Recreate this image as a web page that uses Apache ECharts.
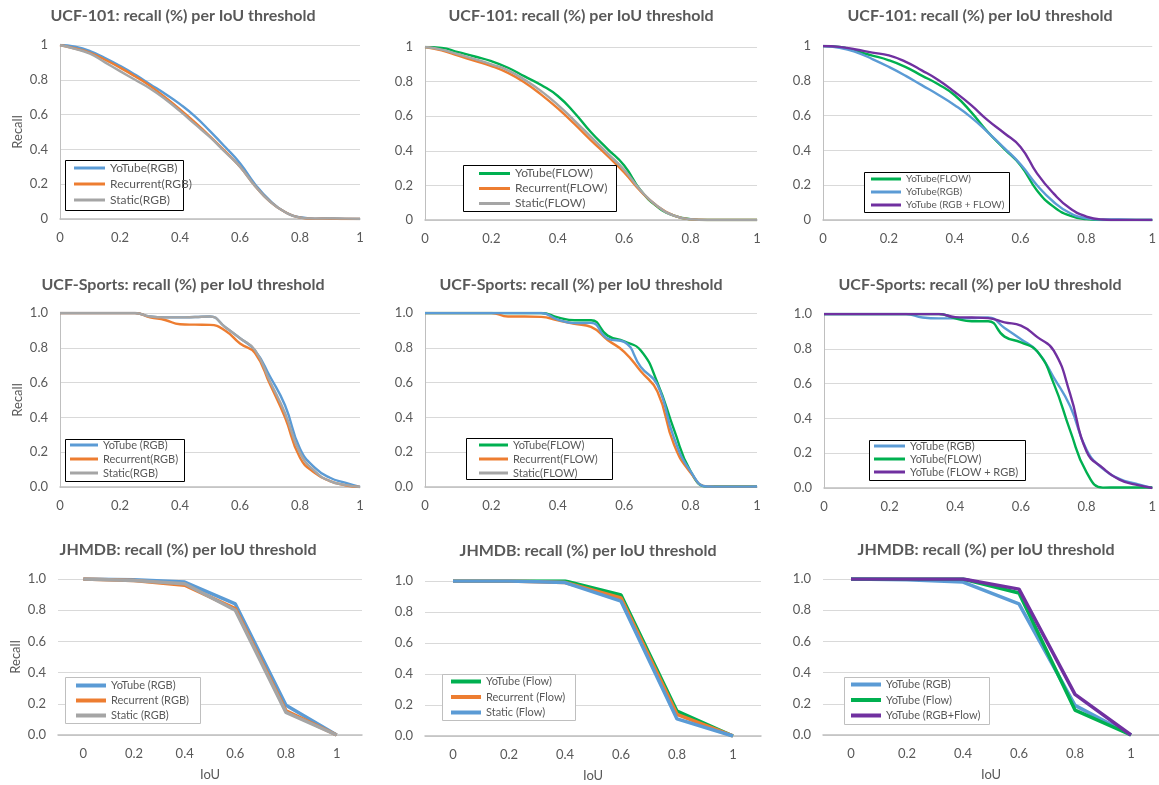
<!DOCTYPE html>
<html>
<head>
<meta charset="utf-8">
<title>Recall per IoU threshold</title>
<script src="https://cdn.jsdelivr.net/npm/echarts@6/dist/echarts.min.js"></script>
<style>
  body { margin: 0; background: #ffffff; }
  #chart { width: 1159px; height: 785px; }
</style>
</head>
<body>
<div id="chart"></div>
<script>
// IoU thresholds used for the smooth curves (UCF-101 / UCF-Sports)
var iouFine = [0, 0.05, 0.1, 0.15, 0.2, 0.25, 0.3, 0.35, 0.4, 0.45, 0.5, 0.55, 0.6, 0.65, 0.7, 0.75, 0.8, 0.85, 0.9, 0.95, 1];
// IoU categories for JHMDB
var iouCoarse = ['0', '0.2', '0.4', '0.6', '0.8', '1'];

// UCF-101
var ucf101YoTubeRgb    = [1, 0.99, 0.965, 0.925, 0.88, 0.83, 0.775, 0.72, 0.66, 0.59, 0.505, 0.415, 0.32, 0.2, 0.105, 0.04, 0.01, 0.002, 0.003, 0.001, 0];
var ucf101RecurrentRgb = [1, 0.98, 0.955, 0.915, 0.87, 0.82, 0.765, 0.7, 0.63, 0.555, 0.475, 0.39, 0.3, 0.19, 0.1, 0.04, 0.008, 0.001, 0.002, 0, 0];
var ucf101StaticRgb    = [1, 0.978, 0.95, 0.9, 0.85, 0.8, 0.75, 0.69, 0.62, 0.545, 0.47, 0.385, 0.3, 0.19, 0.1, 0.04, 0.008, 0.002, 0.004, 0.002, 0.001];
var ucf101YoTubeFlow    = [1, 0.995, 0.97, 0.945, 0.918, 0.88, 0.83, 0.78, 0.717, 0.62, 0.507, 0.41, 0.315, 0.17, 0.077, 0.025, 0.005, 0, 0, 0, 0];
var ucf101RecurrentFlow = [1, 0.98, 0.95, 0.92, 0.89, 0.85, 0.795, 0.725, 0.645, 0.555, 0.46, 0.37, 0.275, 0.165, 0.08, 0.025, 0.004, 0, 0, 0, 0];
var ucf101StaticFlow    = [1, 0.985, 0.958, 0.93, 0.9, 0.865, 0.81, 0.745, 0.665, 0.575, 0.48, 0.385, 0.29, 0.17, 0.08, 0.025, 0.004, 0, 0, 0, 0];
var ucf101YoTubeBoth    = [1, 0.995, 0.98, 0.962, 0.946, 0.91, 0.86, 0.805, 0.736, 0.66, 0.574, 0.5, 0.42, 0.268, 0.153, 0.067, 0.02, 0.003, 0, 0, 0];

// UCF-Sports
var sportsYoTubeRgb    = [1, 1, 1, 1, 1, 1, 0.98, 0.975, 0.975, 0.977, 0.98, 0.92, 0.855, 0.785, 0.635, 0.47, 0.22, 0.11, 0.053, 0.025, 0];
var sportsRecurrentRgb = [1, 1, 1, 1, 1, 1, 0.975, 0.96, 0.935, 0.933, 0.932, 0.9, 0.825, 0.77, 0.59, 0.4, 0.168, 0.08, 0.034, 0.01, 0];
var sportsStaticRgb    = [1, 1, 1, 1, 1, 1, 0.98, 0.975, 0.975, 0.977, 0.98, 0.92, 0.855, 0.787, 0.606, 0.425, 0.196, 0.09, 0.034, 0.012, 0];
var sportsYoTubeFlow    = [1, 1, 1, 1, 1, 1, 1, 1, 0.975, 0.958, 0.958, 0.87, 0.837, 0.785, 0.6, 0.33, 0.09, 0.002, 0.003, 0.003, 0.003];
var sportsRecurrentFlow = [1, 1, 1, 1, 1, 0.98, 0.98, 0.978, 0.958, 0.938, 0.92, 0.845, 0.777, 0.665, 0.549, 0.244, 0.082, 0.003, 0.002, 0.002, 0.002];
var sportsStaticFlow    = [1, 1, 1, 1, 1, 1, 1, 1, 0.962, 0.942, 0.943, 0.853, 0.834, 0.69, 0.587, 0.282, 0.09, 0.003, 0.002, 0.002, 0.003];
var sportsYoTubeBoth    = [1, 1, 1, 1, 1, 1, 1, 1, 0.982, 0.98, 0.976, 0.952, 0.933, 0.867, 0.79, 0.54, 0.21, 0.114, 0.048, 0.019, 0];

// JHMDB
var jhmdbYoTubeRgb     = [1.0, 0.995, 0.98, 0.84, 0.19, 0];
var jhmdbRecurrentRgb  = [1.0, 0.99, 0.96, 0.81, 0.155, 0];
var jhmdbStaticRgb     = [1.0, 0.99, 0.97, 0.80, 0.145, 0];
var jhmdbYoTubeFlow    = [1.0, 1.0, 1.0, 0.91, 0.16, 0];
var jhmdbRecurrentFlow = [1.0, 1.0, 0.99, 0.89, 0.14, 0];
var jhmdbStaticFlow    = [1.0, 1.0, 0.99, 0.87, 0.11, 0];
var jhmdbYoTubeBoth    = [1.0, 1.0, 1.0, 0.935, 0.26, 0];

var FONT = 'Lato, "Open Sans", sans-serif';
var TXT = '#595959';
var BLUE = '#5B9BD5', ORANGE = '#ED7D31', GRAY = '#A5A5A5', GREEN = '#00B050', PURPLE = '#7030A0';

var T101 = 'UCF-101: recall (%) per IoU threshold';
var TSPORT = 'UCF-Sports: recall (%) per IoU threshold';
var TJH = 'JHMDB: recall (%) per IoU threshold';

// one entry per small chart: plot rect, title centre, legend frame + layout
// leg = [left, top, fontSize, lineHeight, itemGap, iconWidth, iconHeight]
var panels = [
  { plot: [60, 45, 300, 174], title: [183, 16, T101], box: [65, 160, 118, 50],
    leg: [74, 161, 12, 14, 2, 31, 3], recall: true, dec: 0,
    lines: [['YoTube(RGB)', ucf101YoTubeRgb, BLUE], ['Recurrent(RGB)', ucf101RecurrentRgb, ORANGE], ['Static(RGB)', ucf101StaticRgb, GRAY]] },
  { plot: [425, 47, 332, 173], title: [581, 16, T101], box: [463, 165, 153, 46],
    leg: [479, 167, 12, 13, 2, 31, 3], dec: 0,
    lines: [['YoTube(FLOW)', ucf101YoTubeFlow, GREEN], ['Recurrent(FLOW)', ucf101RecurrentFlow, ORANGE], ['Static(FLOW)', ucf101StaticFlow, GRAY]] },
  { plot: [823, 46, 334, 174], title: [980, 16, T101], box: [864, 172, 145, 40],
    leg: [871, 173, 10, 12, 1, 30, 3], dec: 0,
    lines: [['YoTube(FLOW)', ucf101YoTubeFlow, GREEN], ['YoTube(RGB)', ucf101YoTubeRgb, BLUE], ['YoTube (RGB + FLOW)', ucf101YoTubeBoth, PURPLE]] },
  { plot: [60, 313, 300, 174], title: [183, 285, TSPORT], box: [65, 439, 119, 42],
    leg: [70, 439, 11, 12, 2, 28, 3], recall: true, dec: 1,
    lines: [['YoTube (RGB)', sportsYoTubeRgb, BLUE], ['Recurrent(RGB)', sportsRecurrentRgb, ORANGE], ['Static(RGB)', sportsStaticRgb, GRAY]] },
  { plot: [425, 313, 332, 174], title: [581, 285, TSPORT], box: [466, 438, 146, 41],
    leg: [479, 439, 11, 12, 2, 29, 3], dec: 1,
    lines: [['YoTube(FLOW)', sportsYoTubeFlow, GREEN], ['Recurrent(FLOW)', sportsRecurrentFlow, ORANGE], ['Static(FLOW)', sportsStaticFlow, BLUE]] },
  { plot: [824, 314, 333, 174], title: [980, 285, TSPORT], box: [869, 440, 156, 40],
    leg: [874, 440, 11, 12, 1, 31, 3], dec: 1,
    lines: [['YoTube (RGB)', sportsYoTubeRgb, BLUE], ['YoTube(FLOW)', sportsYoTubeFlow, GREEN], ['YoTube (FLOW + RGB)', sportsYoTubeBoth, PURPLE]] },
  { plot: [58, 579, 304, 156], title: [188, 550, TJH], box: [65, 677, 135, 46],
    leg: [76, 679, 11, 13, 2, 30, 4], recall: true, iou: true, cat: true, dec: 1,
    lines: [['YoTube (RGB)', jhmdbYoTubeRgb, BLUE], ['Recurrent (RGB)', jhmdbRecurrentRgb, ORANGE], ['Static (RGB)', jhmdbStaticRgb, GRAY]] },
  { plot: [425, 581, 336, 155], title: [588, 551, TJH], box: [442, 674, 133, 46],
    leg: [451, 675, 11, 13, 2.5, 30, 4], iou: true, cat: true, dec: 1,
    lines: [['YoTube (Flow)', jhmdbYoTubeFlow, GREEN], ['Recurrent (Flow)', jhmdbRecurrentFlow, ORANGE], ['Static (Flow)', jhmdbStaticFlow, BLUE]] },
  { plot: [823, 579, 336, 156], title: [986, 550, TJH], box: [844, 677, 145, 47],
    leg: [851, 678, 11, 13, 2.5, 30, 4], iou: true, cat: true, dec: 1,
    lines: [['YoTube (RGB)', jhmdbYoTubeRgb, BLUE], ['YoTube (Flow)', jhmdbYoTubeFlow, GREEN], ['YoTube (RGB+Flow)', jhmdbYoTubeBoth, PURPLE]] }
];

var grids = [], xAxes = [], yAxes = [], series = [], legends = [], graphics = [];

panels.forEach(function (p, i) {
  grids.push({ left: p.plot[0], top: p.plot[1], width: p.plot[2], height: p.plot[3] });

  var lbl = { color: TXT, fontSize: 13, fontFamily: FONT, margin: 12 };
  var axisLine = { show: true, lineStyle: { color: '#BFBFBF', width: 1.5 } };

  if (p.cat) {
    xAxes.push({
      gridIndex: i, type: 'category', data: iouCoarse, boundaryGap: true,
      axisLine: axisLine, axisTick: { show: false }, axisLabel: lbl,
      name: p.iou ? 'IoU' : '', nameLocation: 'middle', nameGap: 33,
      nameTextStyle: { color: TXT, fontSize: 13, fontFamily: FONT }
    });
  } else {
    xAxes.push({
      gridIndex: i, type: 'value', min: 0, max: 1, interval: 0.2,
      axisLine: axisLine, axisTick: { show: false }, axisLabel: lbl,
      splitLine: { show: false }
    });
  }

  yAxes.push({
    gridIndex: i, type: 'value', min: 0, max: 1, interval: 0.2,
    axisLine: { show: !p.cat, lineStyle: { color: '#BFBFBF', width: 1 } },
    axisTick: { show: false },
    axisLabel: {
      color: TXT, fontSize: 13, fontFamily: FONT, margin: 12,
      formatter: function (v) { return p.dec ? v.toFixed(1) : String(+v.toFixed(1)); }
    },
    splitLine: { lineStyle: { color: '#D9D9D9', width: 1 } },
    name: p.recall ? 'Recall' : '', nameLocation: 'middle', nameGap: 36,
    nameTextStyle: { color: TXT, fontSize: 13, fontFamily: FONT }
  });

  p.lines.forEach(function (l) {
    series.push({
      type: 'line', name: l[0], xAxisIndex: i, yAxisIndex: i,
      data: p.cat ? l[1] : iouFine.map(function (x, k) { return [x, l[1][k]]; }),
      smooth: p.cat ? false : 0.5,
      symbol: 'none', showSymbol: false,
      color: l[2], itemStyle: { color: l[2] },
      lineStyle: { color: l[2], width: p.cat ? 3.5 : 2.4 },
      animation: false
    });
  });

  // legend frame
  graphics.push({
    type: 'rect', silent: true, z: 10,
    shape: { x: p.box[0] + 0.5, y: p.box[1] + 0.5, width: p.box[2], height: p.box[3] },
    style: { fill: '#ffffff', stroke: p.cat ? '#BFBFBF' : '#000000', lineWidth: 1 }
  });
  // chart title
  graphics.push({
    type: 'text', silent: true, x: p.title[0], y: p.title[1],
    style: { text: p.title[2], fill: TXT, font: 'bold 16px ' + FONT, textAlign: 'center', textVerticalAlign: 'middle' }
  });

  var g = p.leg;
  legends.push({
    left: g[0], top: g[1], orient: 'vertical', padding: 0, z: 20,
    data: p.lines.map(function (l) { return l[0]; }),
    icon: 'rect', itemWidth: g[5], itemHeight: g[6], itemGap: g[4],
    selectedMode: false,
    textStyle: { color: TXT, fontSize: g[2], lineHeight: g[3], fontFamily: FONT }
  });
});

var chart = echarts.init(document.getElementById('chart'));
chart.setOption({
  backgroundColor: '#ffffff',
  animation: false,
  grid: grids,
  xAxis: xAxes,
  yAxis: yAxes,
  legend: legends,
  series: series,
  graphic: graphics
});
</script>
</body>
</html>
